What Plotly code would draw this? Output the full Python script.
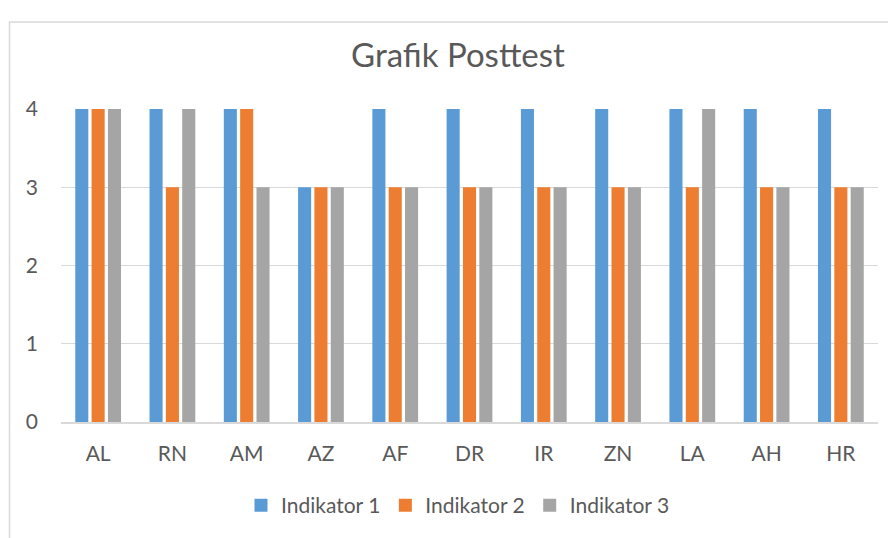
import plotly.graph_objects as go

categories = ["AL", "RN", "AM", "AZ", "AF", "DR", "IR", "ZN", "LA", "AH", "HR"]
indikator1 = [4, 4, 4, 3, 4, 4, 4, 4, 4, 4, 4]
indikator2 = [4, 3, 4, 3, 3, 3, 3, 3, 3, 3, 3]
indikator3 = [4, 4, 3, 3, 3, 3, 3, 3, 4, 3, 3]
series_names = ["Indikator 1", "Indikator 2", "Indikator 3"]
colors = ["#5B9BD5", "#ED7D31", "#A5A5A5"]

# page body has an 8px default margin; compensate so the figure lands at (0,0)-equivalent
OFF = 8
W, H = 896 - OFF, 538 - OFF
L, R, T, B = 61 - OFF, 18, 109 - OFF, 115 - OFF
pw, ph = W - L - R, H - T - B

fig = go.Figure()
for name, vals, c in zip(series_names, [indikator1, indikator2, indikator3], colors):
    fig.add_trace(go.Bar(x=categories, y=vals, name=name, showlegend=False,
                         marker=dict(color=c, line=dict(width=0))))
# legend entries with square swatches
for name, c in zip(series_names, colors):
    fig.add_trace(go.Scatter(x=[None], y=[None], mode="markers", name=name,
                             marker=dict(symbol="square", size=13, color=c)))

FONT = "Lato, 'Noto Sans', sans-serif"
fig.update_layout(
    width=W, height=H,
    margin=dict(l=L, r=R, t=T, b=B),
    paper_bgcolor="white", plot_bgcolor="white",
    barmode="group", bargap=0.34, bargroupgap=0.2,
    font=dict(family=FONT, color="#595959", size=21),
    title=dict(text="Grafik Posttest", x=(458 - OFF) / W, xanchor="center", xref="container",
               y=1 - (55 - OFF) / H, yanchor="middle", yref="container",
               font=dict(size=33, color="#595959", family=FONT)),
    legend=dict(orientation="h", x=(458 - 61) / (878 - 61), xanchor="center",
                y=(423 - 509) / ph, yanchor="middle",
                font=dict(size=21, color="#595959"), itemwidth=30, traceorder="normal"),
    yaxis=dict(range=[0, 4], dtick=1, showgrid=True, gridcolor="#D9D9D9", gridwidth=1,
               zeroline=False, showline=False, ticks="", ticklabelstandoff=22,
               tickfont=dict(size=21, color="#595959")),
    xaxis=dict(showline=True, linecolor="#D9D9D9", linewidth=2, ticks="", showgrid=False,
               ticklabelstandoff=12, tickfont=dict(size=21, color="#595959")),
    shapes=[dict(type="rect", xref="paper", yref="paper",
                 x0=(9.5 - 61) / pw, x1=1.2, y0=-0.6, y1=(423 - 11.5) / ph,
                 line=dict(color="#D9D9D9", width=1.5), fillcolor="rgba(0,0,0,0)", layer="below")],
)

fig.write_html("out.html")
